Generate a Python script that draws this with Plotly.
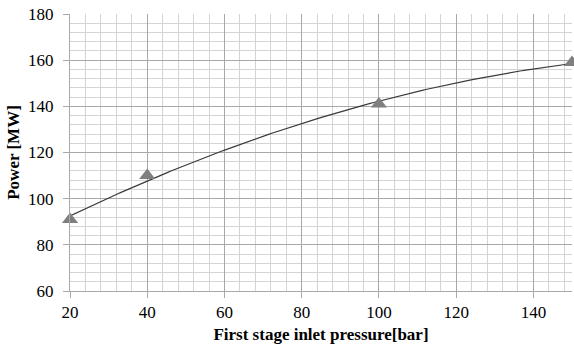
import numpy as np
import plotly.graph_objects as go

pressure = [20, 40, 100, 150]
power = [91, 110, 141, 159]
x_ticks = [20, 40, 60, 80, 100, 120, 140]
y_ticks = [60, 80, 100, 120, 140, 160, 180]

coef = np.polyfit(pressure, power, 2)
xs = np.linspace(20, 150, 200)
ys = np.polyval(coef, xs)

fig = go.Figure()
fig.add_trace(go.Scatter(x=xs, y=ys, mode="lines",
                         line=dict(color="#3a3a3a", width=1.2),
                         hoverinfo="skip", showlegend=False))
fig.add_trace(go.Scatter(x=pressure, y=power, mode="markers", cliponaxis=False,
                         marker=dict(symbol="triangle-up", size=14, color="#7f7f7f"),
                         showlegend=False))

serif = "Times New Roman, Liberation Serif, serif"
tickfont = dict(family=serif, size=17, color="black")
titlefont = dict(family=serif, size=17, color="black")
fig.update_layout(
    width=574, height=347,
    margin=dict(l=70, r=2, t=14, b=56),
    paper_bgcolor="white", plot_bgcolor="white",
    font=dict(family=serif, size=17, color="black"),
    xaxis=dict(range=[20, 150], tickvals=x_ticks, ticktext=[str(v) for v in x_ticks],
               showgrid=True, gridcolor="#a8a8a8", gridwidth=1, tickfont=tickfont,
               minor=dict(dtick=4, tick0=20, showgrid=True, gridcolor="#d4d4d4", gridwidth=1),
               ticks="outside", ticklen=6, tickcolor="#a8a8a8",
               showline=True, linecolor="#a8a8a8", zeroline=False,
               title=dict(text="<b>First stage inlet pressure[bar]</b>", font=titlefont, standoff=6)),
    yaxis=dict(range=[60, 180], tickvals=y_ticks, ticktext=[str(v) for v in y_ticks],
               showgrid=True, gridcolor="#a8a8a8", gridwidth=1, tickfont=tickfont,
               ticklabelstandoff=6,
               minor=dict(dtick=4, tick0=60, showgrid=True, gridcolor="#d4d4d4", gridwidth=1),
               ticks="outside", ticklen=6, tickcolor="#a8a8a8",
               showline=True, linecolor="#a8a8a8", zeroline=False,
               title=dict(text="<b>Power [MW]</b>", font=titlefont, standoff=4)),
)
fig.write_html("out.html")
